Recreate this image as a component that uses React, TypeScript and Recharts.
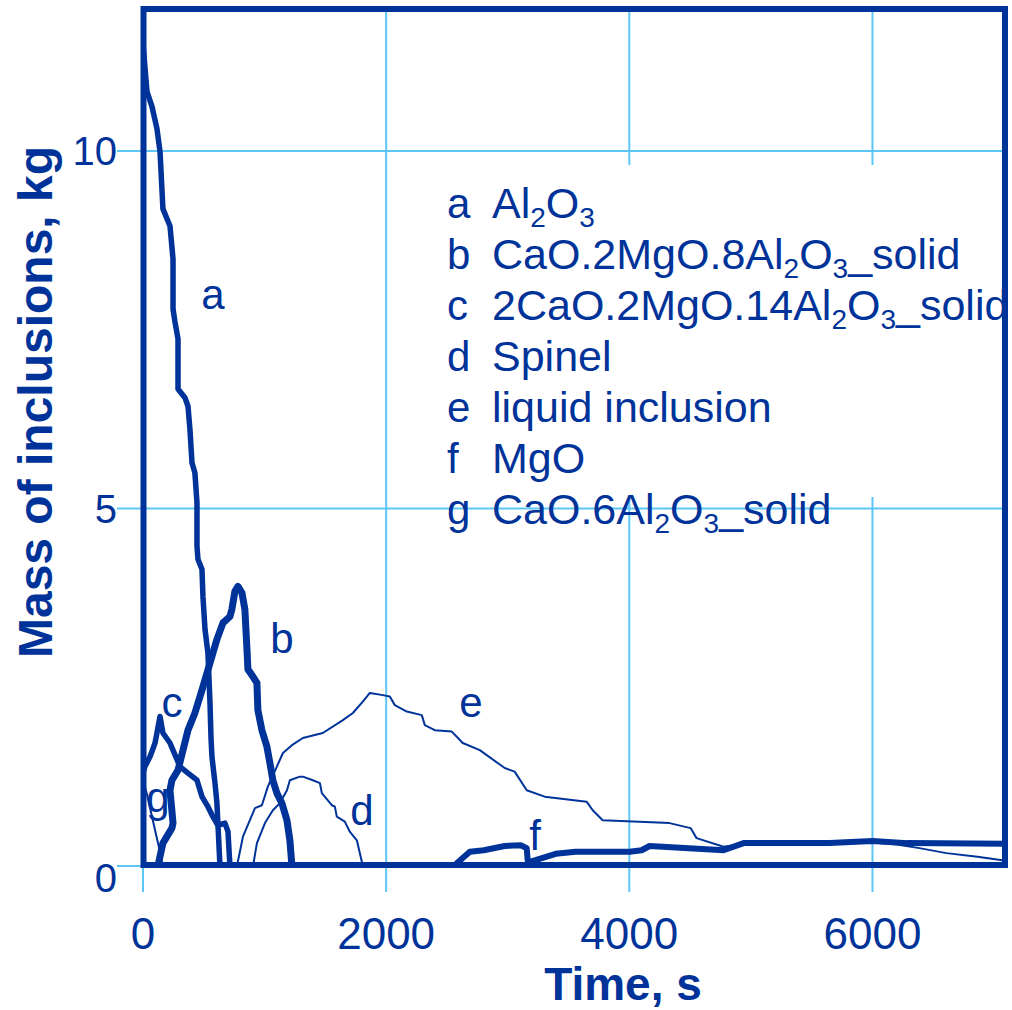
import React from 'react';
import { LineChart, Line, XAxis, YAxis, CartesianGrid } from 'recharts';

const DARK = '#003399';
const GRID = '#5cc6f6';
const FONT = '"Liberation Sans", Arial, sans-serif';

const xTicks = [0, 2000, 4000, 6000];
const yTicks = [0, 5, 10];

// a  Al2O3
const aTime = [0, 33, 74, 115, 140, 164, 222, 247, 247, 263, 288, 288, 345, 370, 386, 403, 427, 444, 444, 452, 485, 493, 510, 534, 551, 559, 567, 592, 608, 616, 633];
const aMass = [11.5, 10.83, 10.62, 10.31, 9.99, 9.19, 8.95, 8.49, 7.79, 7.61, 7.37, 6.67, 6.55, 6.43, 6.11, 5.64, 5.5, 5.08, 4.47, 4.29, 4.15, 3.77, 3.31, 2.98, 2.28, 1.81, 1.53, 1.16, 0.88, 0.6, 0];

// b  CaO.2MgO.8Al2O3
const bTime = [123, 164, 238, 247, 222, 238, 288, 329, 370, 427, 485, 551, 608, 658, 715, 731, 756, 781, 814, 838, 855, 863, 904, 937, 945, 978, 1019, 1044, 1068, 1101, 1142, 1184, 1208, 1225];
const bMass = [0, 0.32, 0.53, 0.6, 1.06, 1.2, 1.34, 1.62, 1.9, 2.14, 2.46, 2.84, 3.17, 3.4, 3.49, 3.59, 3.84, 3.91, 3.82, 3.59, 3.03, 2.75, 2.65, 2.56, 2.18, 1.9, 1.67, 1.44, 1.2, 1.02, 0.88, 0.64, 0.36, 0];

// c  2CaO.2MgO.14Al2O3
const cTime = [0, 16, 58, 99, 140, 164, 222, 304, 370, 444, 485, 534, 575, 616, 674, 699, 715];
const cMass = [1.3, 1.39, 1.53, 1.72, 2.09, 1.86, 1.72, 1.39, 1.3, 1.2, 0.97, 0.83, 0.69, 0.57, 0.6, 0.48, 0];

// d  spinel
const dTime = [905, 937, 1003, 1068, 1126, 1184, 1208, 1290, 1315, 1397, 1455, 1471, 1553, 1578, 1594, 1660, 1701, 1759, 1808];
const dMass = [0, 0.32, 0.6, 0.78, 0.88, 1.06, 1.2, 1.25, 1.25, 1.2, 1.16, 1.02, 0.85, 0.83, 0.69, 0.62, 0.48, 0.36, 0];

// e  liquid inclusion
const eTime = [773, 822, 921, 978, 1027, 1101, 1151, 1225, 1315, 1479, 1644, 1726, 1808, 1866, 1973, 2030, 2071, 2170, 2293, 2318, 2400, 2540, 2630, 2770, 2975, 3057, 3156, 3304, 3649, 3699, 3781, 4331, 4504, 4553, 4775, 4940, 5646, 6000, 6200, 6386, 6608, 6863, 7068];
const eMass = [0, 0.41, 0.81, 0.85, 1.11, 1.39, 1.58, 1.69, 1.79, 1.86, 2.04, 2.14, 2.3, 2.42, 2.39, 2.37, 2.25, 2.16, 2.11, 1.97, 1.9, 1.88, 1.72, 1.62, 1.37, 1.32, 1.06, 0.97, 0.9, 0.78, 0.64, 0.6, 0.53, 0.39, 0.27, 0.31, 0.31, 0.33, 0.3, 0.25, 0.18, 0.13, 0.08];

// f  MgO
const fTime = [2564, 2581, 2688, 2803, 2975, 3107, 3156, 3164, 3173, 3189, 3394, 3559, 4003, 4101, 4167, 4775, 4940, 5162, 5646, 6000, 6287, 7090];
const fMass = [0, 0.04, 0.2, 0.22, 0.28, 0.29, 0.25, 0.08, 0, 0.06, 0.17, 0.2, 0.2, 0.22, 0.28, 0.22, 0.32, 0.32, 0.32, 0.35, 0.32, 0.31];

// g  CaO.6Al2O3
const gTime = [0, 30, 70, 110, 145, 160];
const gMass = [1.2, 1.02, 0.72, 0.42, 0.16, 0];

const legendLetters = ['a', 'b', 'c', 'd', 'e', 'f', 'g'];
const legendNames = [
  'Al{2}O{3}',
  'CaO.2MgO.8Al{2}O{3}_solid',
  '2CaO.2MgO.14Al{2}O{3}_solid',
  'Spinel',
  'liquid inclusion',
  'MgO',
  'CaO.6Al{2}O{3}_solid',
];

const zip = (t: number[], m: number[]) => t.map((v, i) => ({ t: v, m: m[i] }));

const series = [
  { key: 'e', data: zip(eTime, eMass), w: 2 },
  { key: 'd', data: zip(dTime, dMass), w: 2 },
  { key: 'g', data: zip(gTime, gMass), w: 2 },
  { key: 'a', data: zip(aTime, aMass), w: 5.5 },
  { key: 'c', data: zip(cTime, cMass), w: 5.5 },
  { key: 'b', data: zip(bTime, bMass), w: 7 },
  { key: 'f', data: zip(fTime, fMass), w: 6 },
];

// letters next to the curves (pixel layout)
const curveTags = [
  { s: 'a', x: 213, y: 309 },
  { s: 'b', x: 282, y: 653 },
  { s: 'c', x: 172, y: 717 },
  { s: 'g', x: 158, y: 812 },
  { s: 'd', x: 362, y: 825 },
  { s: 'e', x: 471, y: 717 },
  { s: 'f', x: 535, y: 850 },
];

const XTick = ({ x, y, payload }: any) => (
  <text x={x} y={y + 57} textAnchor="middle" fill={DARK} fontSize={44} fontFamily={FONT}>
    {payload.value}
  </text>
);

const YTick = ({ x, y, payload }: any) => (
  <text x={x} y={y + 14 + (payload.value === 0 ? 12 : 0)} textAnchor="end" fill={DARK} fontSize={40} fontFamily={FONT}>
    {payload.value}
  </text>
);

function Formula({ x, y, text }: { x: number; y: number; text: string }) {
  const parts = text.split(/(\{\d+\})/).filter((p) => p !== '');
  let shifted = false;
  return (
    <text x={x} y={y} fill={DARK} fontSize={43} fontFamily={FONT}>
      {parts.map((p, i) => {
        const isSub = p.startsWith('{');
        let dy = 0;
        if (isSub && !shifted) { dy = 9; shifted = true; }
        else if (!isSub && shifted) { dy = -9; shifted = false; }
        return (
          <tspan key={i} dy={dy} fontSize={isSub ? 28 : 43}>
            {isSub ? p.slice(1, -1) : p}
          </tspan>
        );
      })}
    </text>
  );
}

export default function App() {
  return (
    <div style={{ position: 'absolute', left: 0, top: 0, width: 1012, height: 1010, background: '#fff' }}>
      <LineChart width={1012} height={1010} margin={{ top: 8, right: 7, bottom: 0, left: 0 }}>
        <CartesianGrid stroke={GRID} strokeWidth={2} />
        <XAxis
          type="number"
          dataKey="t"
          domain={[0, 7090]}
          ticks={xTicks}
          interval={0}
          allowDataOverflow
          height={144}
          tickSize={26}
          tickMargin={0}
          axisLine={false}
          tickLine={{ stroke: GRID, strokeWidth: 2 }}
          tick={(p: any) => <XTick {...p} />}
        />
        <YAxis
          type="number"
          domain={[0, 12]}
          ticks={yTicks}
          interval={0}
          allowDataOverflow
          width={143}
          tickSize={26}
          tickMargin={0}
          axisLine={false}
          tickLine={{ stroke: GRID, strokeWidth: 2 }}
          tick={(p: any) => <YTick {...p} />}
        />
        {series.map((s) => (
          <Line
            key={s.key}
            data={s.data}
            dataKey="m"
            type="linear"
            stroke={DARK}
            strokeWidth={s.w}
            strokeLinejoin="round"
            strokeLinecap="round"
            dot={false}
            activeDot={false}
            isAnimationActive={false}
          />
        ))}
      </LineChart>

      <svg width={1012} height={1010} style={{ position: 'absolute', left: 0, top: 0, pointerEvents: 'none' }}>
        <rect x={400} y={165} width={600} height={332} fill="#fff" />
        <rect x={143.5} y={9} width={861.5} height={856} fill="none" stroke={DARK} strokeWidth={6} />

        {legendLetters.map((l, i) => (
          <g key={l}>
            <text x={447} y={218 + i * 51} fill={DARK} fontSize={42} fontFamily={FONT}>{l}</text>
            <Formula x={492} y={218 + i * 51} text={legendNames[i]} />
          </g>
        ))}

        {curveTags.map((c) => (
          <text key={c.s} x={c.x} y={c.y} textAnchor="middle" fill={DARK} fontSize={42} fontFamily={FONT}>{c.s}</text>
        ))}

        <text x={623} y={1000} textAnchor="middle" fill={DARK} fontSize={46} fontWeight="bold" fontFamily={FONT}>
          Time, s
        </text>
        <text
          transform="translate(52,402) rotate(-90)"
          textAnchor="middle"
          fill={DARK}
          fontSize={48}
          fontWeight="bold"
          fontFamily={FONT}
        >
          Mass of inclusions, kg
        </text>
      </svg>
    </div>
  );
}
